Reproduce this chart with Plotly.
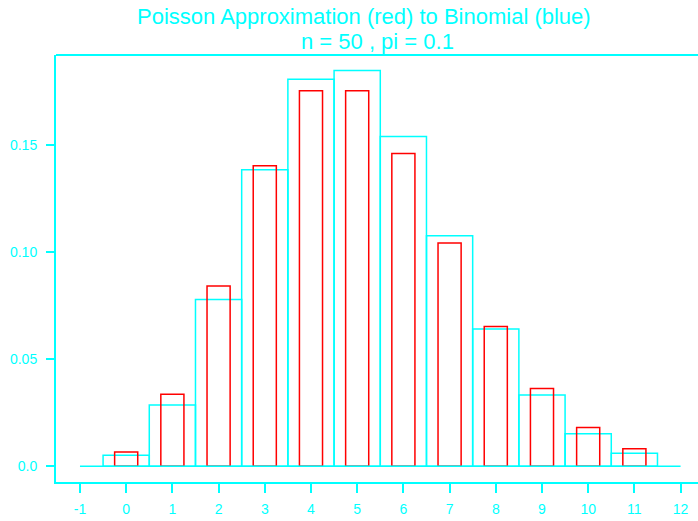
import plotly.graph_objects as go

k_values = list(range(0, 12))
binomial_pmf = [0.0052, 0.0286, 0.0779, 0.1386, 0.1809, 0.1849, 0.1541, 0.1077, 0.0642, 0.0333, 0.0152, 0.0061]
poisson_pmf = [0.0067, 0.0337, 0.0842, 0.1404, 0.1755, 0.1755, 0.1462, 0.1044, 0.0653, 0.0363, 0.0181, 0.0082]
x_ticks = list(range(-1, 13))
x_tick_labels = [str(v) for v in x_ticks]
y_ticks = [0.0, 0.05, 0.10, 0.15]
y_tick_labels = ["0.0", "0.05", "0.10", "0.15"]
title_lines = ["Poisson Approximation (red) to Binomial (blue)", "n = 50 , pi = 0.1"]
title_centers_px = [364, 378]

CYAN = "#00FFFF"
RED = "#FF0000"
FONT = "Liberation Sans, Arial, sans-serif"

fig = go.Figure()
fig.add_trace(go.Scatter(x=[x_ticks[0], x_ticks[-1]], y=[0, 0], mode="lines",
                         line=dict(color=CYAN, width=1.5), showlegend=False, hoverinfo="skip"))
fig.add_trace(go.Bar(x=k_values, y=binomial_pmf, width=[1.0] * len(k_values),
                     marker=dict(color="rgba(0,0,0,0)", line=dict(color=CYAN, width=1.5)),
                     showlegend=False))
fig.add_trace(go.Bar(x=k_values, y=poisson_pmf, width=[0.5] * len(k_values),
                     marker=dict(color="rgba(0,0,0,0)", line=dict(color=RED, width=1.5)),
                     showlegend=False))

annotations = []
for i, line in enumerate(title_lines):
    annotations.append(dict(text=line, xref="paper", yref="paper",
                            x=(title_centers_px[i] - 56) / 642, y=1 + (55 - (17 + 25 * i)) / 427,
                            xanchor="center", yanchor="middle", showarrow=False,
                            font=dict(family=FONT, size=22, color=CYAN)))

fig.update_layout(
    width=698, height=521,
    margin=dict(l=56, r=0, t=55, b=39),
    paper_bgcolor="white", plot_bgcolor="white",
    barmode="overlay",
    font=dict(family=FONT, size=14, color=CYAN),
    annotations=annotations,
    xaxis=dict(range=[-1.519, 12.377], tickmode="array", tickvals=x_ticks, ticktext=x_tick_labels,
               showgrid=False, zeroline=False, showline=True, linecolor=CYAN, linewidth=2,
               ticks="outside", ticklen=9, tickwidth=1.5, tickcolor=CYAN,
               tickfont=dict(family=FONT, size=14, color=CYAN), ticklabelstandoff=4),
    yaxis=dict(range=[-0.00734, 0.1922], tickmode="array", tickvals=y_ticks, ticktext=y_tick_labels,
               showgrid=False, zeroline=False, showline=True, linecolor=CYAN, linewidth=2,
               ticks="outside", ticklen=8, tickwidth=1.5, tickcolor=CYAN,
               tickfont=dict(family=FONT, size=14, color=CYAN), ticklabelstandoff=6),
    shapes=[dict(type="line", xref="paper", yref="paper", x0=0, x1=1, y0=1, y1=1,
                 line=dict(color=CYAN, width=2))],
)

fig.write_html("out.html")
